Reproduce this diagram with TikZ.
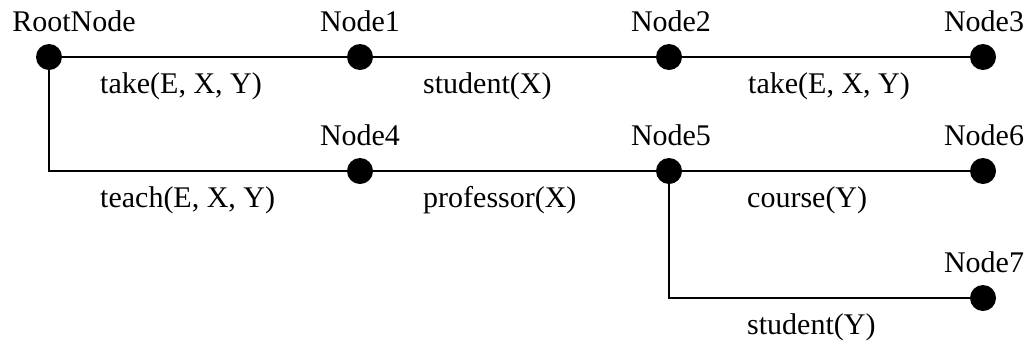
\documentclass[tikz,border=0pt]{standalone}
\usepackage{fontspec}
\setmainfont{Liberation Serif}
\begin{document}
\begin{tikzpicture}[x=1bp,y=-1bp,
  dot/.style={circle,fill=black,draw=none,minimum size=26bp,inner sep=0pt},
  nodename/.style={anchor=base,inner sep=0pt,font=\fontsize{30bp}{36bp}\selectfont},
  relname/.style={anchor=base west,inner sep=0pt,font=\fontsize{30bp}{36bp}\selectfont},
  link/.style={line width=1.8bp,draw=black}]
\useasboundingbox (0,0) rectangle (1030,344);

% tree vertices
\node[dot] (root) at (49,57) {};
\node[dot] (n1) at (360,57) {};
\node[dot] (n2) at (669,57) {};
\node[dot] (n3) at (983,57) {};
\node[dot] (n4) at (360,171) {};
\node[dot] (n5) at (669,171) {};
\node[dot] (n6) at (983,171) {};
\node[dot] (n7) at (983,298) {};

% vertex names
\node[nodename] (troot) at (74,31) {RootNode};
\node[nodename] (t1) at (360,31) {Node1};
\node[nodename] (t2) at (671,31) {Node2};
\node[nodename] (t3) at (984,31) {Node3};
\node[nodename] (t4) at (360,145) {Node4};
\node[nodename] (t5) at (671,145) {Node5};
\node[nodename] (t6) at (984,145) {Node6};
\node[nodename] (t7) at (984,272) {Node7};

% edges
\draw[link] (root) -- (n1);
\draw[link] (n1) -- (n2);
\draw[link] (n2) -- (n3);
\draw[link] (root) |- (n4);
\draw[link] (n4) -- (n5);
\draw[link] (n5) -- (n6);
\draw[link] (n5) |- (n7);

% edge predicates
\node[relname] (e1) at (100,93) {take(E, X, Y)};
\node[relname] (e2) at (423,93) {student(X)};
\node[relname] (e3) at (748,93) {take(E, X, Y)};
\node[relname] (e4) at (100,207) {teach(E, X, Y)};
\node[relname] (e5) at (423,207) {professor(X)};
\node[relname] (e6) at (747,207) {course(Y)};
\node[relname] (e7) at (747,334) {student(Y)};
\end{tikzpicture}
\end{document}
